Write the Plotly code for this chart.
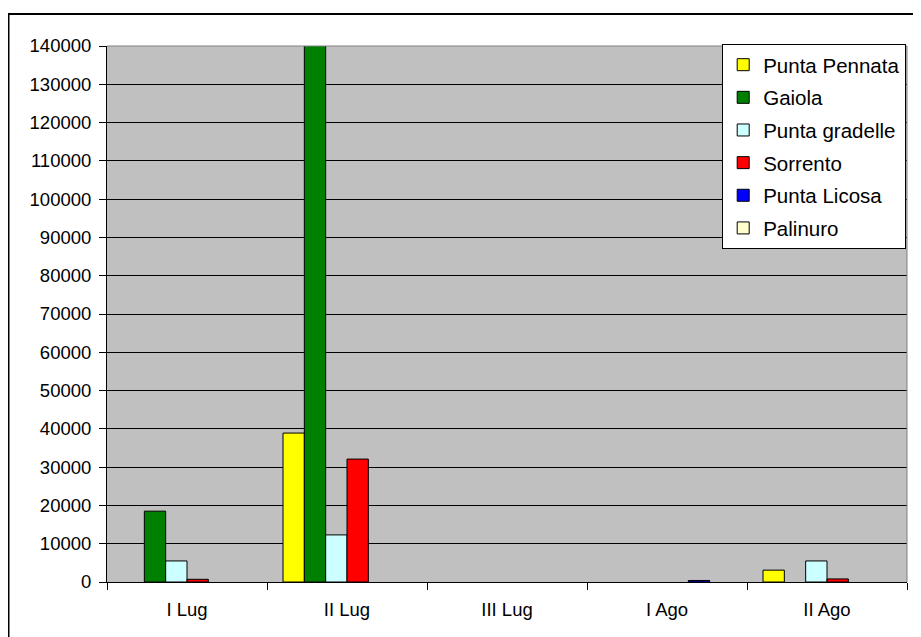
import plotly.graph_objects as go

categories = ["I Lug", "II Lug", "III Lug", "I Ago", "II Ago"]
series_names = ["Punta Pennata", "Gaiola", "Punta gradelle", "Sorrento", "Punta Licosa", "Palinuro"]
punta_pennata = [None, 38900, None, None, 3100]
gaiola = [18500, 141000, None, None, None]
punta_gradelle = [5500, 12300, None, None, 5500]
sorrento = [700, 32100, None, None, 800]
punta_licosa = [None, None, None, 400, None]
palinuro = [None, None, None, None, None]
y_ticks = list(range(0, 140001, 10000))

series_values = [punta_pennata, gaiola, punta_gradelle, sorrento, punta_licosa, palinuro]
colors = ["#FFFF00", "#008000", "#CCFFFF", "#FF0000", "#0000FF", "#FFFFCC"]

FONT = "Liberation Sans, Arial, sans-serif"

fig = go.Figure()
for i, (name, vals, col) in enumerate(zip(series_names, series_values, colors)):
    fig.add_trace(go.Bar(
        x=categories, y=vals, name=name,
        marker=dict(color=col, line=dict(color="black", width=1)),
        legendgroup=f"g{i}",
    ))

fig.update_layout(
    width=913, height=629,
    margin=dict(l=99, r=14, t=38, b=55),
    paper_bgcolor="white",
    plot_bgcolor="#C0C0C0",
    barmode="group",
    bargap=0.2,
    bargroupgap=0,
    font=dict(family=FONT, size=18, color="black"),
    showlegend=True,
    legend=dict(
        x=0.999, xanchor="right", y=1.004, yanchor="top",
        bgcolor="white", bordercolor="black", borderwidth=1,
        font=dict(family=FONT, size=20.5, color="black"),
        tracegroupgap=3,
        traceorder="grouped",
    ),
    xaxis=dict(
        type="category",
        showline=True, linecolor="black", linewidth=1,
        ticks="outside", tickson="boundaries", ticklen=7, tickcolor="black",
        showgrid=False,
        ticklabelstandoff=11,
        tickfont=dict(family=FONT, size=18.5, color="black"),
    ),
    yaxis=dict(
        range=[0, 140000],
        tickvals=y_ticks,
        ticktext=[str(v) for v in y_ticks],
        showline=True, linecolor="black", linewidth=1,
        ticks="outside", ticklen=7, tickcolor="black",
        showgrid=True, gridcolor="black", gridwidth=1,
        zeroline=False,
        ticklabelstandoff=4,
        tickfont=dict(family=FONT, size=18.5, color="black"),
    ),
    shapes=[
        dict(type="line", xref="paper", yref="paper", x0=0, x1=1, y0=1, y1=1,
             line=dict(color="#808080", width=1)),
        dict(type="line", xref="paper", yref="paper", x0=1, x1=1, y0=0, y1=1,
             line=dict(color="#808080", width=1)),
        dict(type="rect", xref="paper", yref="paper",
             x0=(8.5 - 107) / 800, x1=(940 - 107) / 800,
             y0=(582 - 660) / 536, y1=(582 - 14) / 536,
             line=dict(color="black", width=2), layer="below"),
    ],
)

fig.write_html("out.html")
